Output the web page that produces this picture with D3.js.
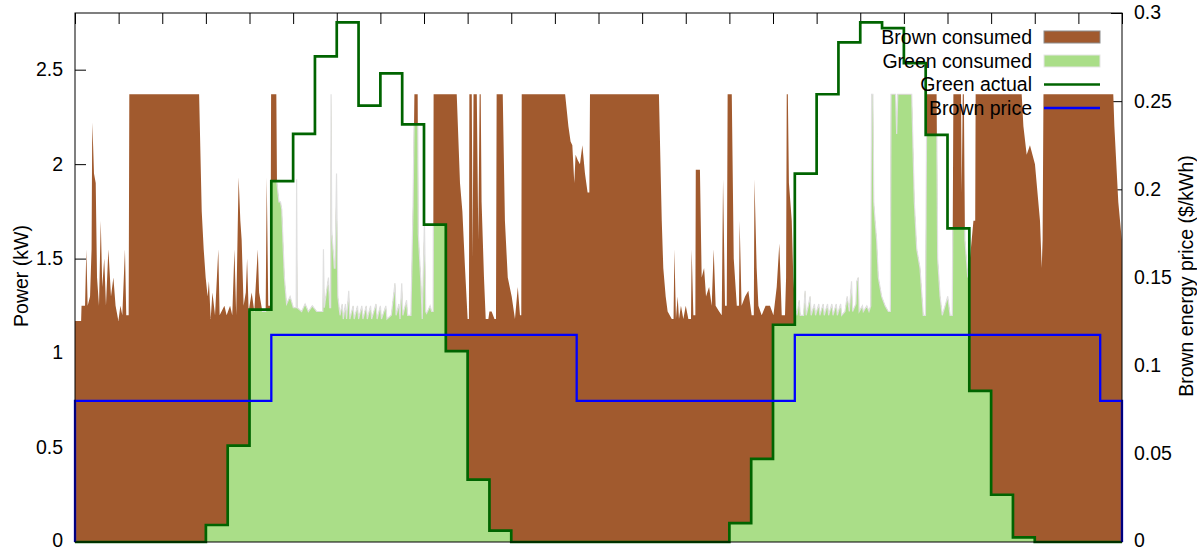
<!DOCTYPE html>
<html>
<head>
<meta charset="utf-8">
<script src="https://cdn.jsdelivr.net/npm/d3@7"></script>
<style>
  html, body { margin: 0; padding: 0; background: #fff; }
  svg text { font-family: "Liberation Sans", Arial, Helvetica, sans-serif; fill: #000; }
</style>
</head>
<body>
<svg id="chart" width="1197" height="551"></svg>
<script>
// Total power draw over two days (hour, kW); brown and green shares are split by the green supply.
const loadHour = [
  0.00,0.28,0.30,0.46,0.52,0.58,0.69,0.76,0.79,0.83,0.87,0.95,1.01,1.10,1.18,1.25,1.34,1.42,1.53,1.65,1.76,1.86,1.99,2.08,2.17,2.29,2.35,2.46,2.49,
  5.69,5.81,5.90,5.99,6.08,6.14,6.22,6.30,6.42,6.57,6.63,6.85,6.95,7.11,7.21,7.31,7.39,7.50,7.58,7.64,7.73,7.83,7.89,7.96,8.10,8.22,8.38,8.44,8.59,8.74,8.79,8.86,8.96,8.99,
  9.23,9.26,9.35,9.42,9.48,9.60,9.70,9.86,10.01,10.14,10.16,10.19,10.39,10.55,10.70,10.88,11.08,11.36,11.39,11.43,11.62,11.68,11.72,11.74,11.77,11.89,11.92,11.99,12.05,
  12.15,12.25,12.30,12.40,12.45,12.55,12.60,12.75,12.80,12.95,13.00,13.15,13.20,13.35,13.40,13.55,13.60,13.80,13.85,14.00,14.05,14.25,14.30,14.50,14.67,14.72,14.85,14.90,14.98,15.03,
  15.20,15.25,15.40,15.50,15.56,15.71,15.74,15.86,15.92,16.02,16.08,16.12,16.28,16.35,16.42,16.44,17.50,17.65,17.76,17.88,18.00,18.06,18.08,18.19,18.23,18.27,18.42,18.49,18.55,18.60,
  18.64,18.75,18.83,18.95,19.00,19.10,19.23,19.30,19.33,19.61,19.71,19.84,20.02,20.17,20.30,20.40,20.46,20.48,22.47,22.62,22.72,22.80,22.89,22.95,23.05,23.15,23.26,23.38,23.50,23.58,23.61,
  26.77,26.90,26.97,27.08,27.17,27.36,27.44,27.48,27.55,27.63,27.69,27.78,27.89,28.00,28.12,28.24,28.27,28.35,28.44,28.46,28.65,28.73,28.84,28.93,29.07,29.19,29.28,29.37,29.53,29.65,
  29.71,29.80,29.88,29.92,30.11,30.20,30.34,30.44,30.47,30.56,30.72,30.87,31.02,31.12,31.15,31.25,31.33,31.48,31.66,31.86,32.02,32.17,32.29,32.40,32.55,32.60,32.63,32.68,32.73,32.86,32.93,
  33.01,33.10,33.20,33.25,33.40,33.47,33.52,33.62,33.70,33.75,33.90,33.95,34.10,34.15,34.30,34.35,34.50,34.55,34.70,34.75,34.90,34.95,35.10,35.15,35.30,35.40,35.50,35.60,35.65,35.80,
  35.84,35.91,35.95,36.10,36.14,36.30,36.40,36.48,36.52,36.58,36.62,36.68,36.75,36.83,36.98,37.14,37.29,37.38,37.41,37.62,37.67,37.72,38.36,38.48,38.59,38.74,38.89,38.99,39.05,39.50,
  39.55,39.66,39.76,39.89,40.01,40.12,40.22,40.27,40.62,40.65,40.70,40.75,40.80,40.93,41.03,41.19,41.27,41.29,43.40,43.48,43.63,43.78,44.01,44.24,44.32,44.36,44.40,47.60,47.65,47.83,47.99,48.00
];
const loadKW = [
  1.17,1.17,1.25,1.25,1.55,1.25,1.30,1.55,2.22,2.10,1.95,1.90,1.40,1.25,1.70,1.35,1.50,1.25,1.55,1.30,1.40,1.25,1.17,1.25,1.20,1.55,1.20,1.20,2.37,
  2.37,1.75,1.55,1.40,1.30,1.38,1.18,1.32,1.20,1.55,1.20,1.25,1.20,1.25,1.20,1.55,1.20,1.93,1.70,1.60,1.25,1.32,1.50,1.22,1.32,1.22,1.55,1.32,1.22,1.22,1.93,1.25,1.25,2.37,
  2.37,1.90,1.80,1.80,1.76,1.40,1.26,1.30,1.24,1.24,1.92,1.24,1.22,1.26,1.22,1.25,1.22,1.22,1.55,1.24,1.40,1.24,1.24,2.37,1.65,1.45,1.45,1.95,1.30,
  1.20,1.26,1.18,1.26,1.18,1.33,1.18,1.25,1.18,1.25,1.18,1.25,1.18,1.25,1.18,1.25,1.18,1.26,1.18,1.25,1.18,1.25,1.18,1.20,1.37,1.20,1.26,1.18,1.37,1.20,
  1.28,1.20,1.20,1.80,2.37,2.37,1.63,1.37,1.18,1.70,1.22,1.21,1.25,1.22,1.22,2.37,2.37,1.90,1.75,1.45,1.18,1.18,2.37,2.37,1.50,2.37,2.37,1.60,2.37,2.37,
  1.80,1.40,1.18,1.18,1.22,1.22,1.18,1.18,2.37,2.37,1.70,1.40,1.30,1.18,1.35,1.20,1.20,2.37,2.37,2.20,2.12,2.10,1.90,2.05,2.02,2.00,2.10,1.95,1.85,1.85,2.37,
  2.37,1.70,1.45,1.30,1.22,1.18,1.18,1.55,1.18,1.30,1.18,1.25,1.18,1.25,1.18,1.18,1.55,1.20,1.20,1.97,1.97,1.40,1.45,1.30,1.35,1.25,1.55,1.25,1.22,1.20,
  1.92,1.25,1.25,2.37,2.37,1.50,1.25,1.25,1.70,1.25,1.30,1.33,1.20,1.20,1.92,1.45,1.25,1.20,1.25,1.25,1.20,1.35,1.58,1.20,1.20,1.40,2.37,2.37,1.90,1.70,1.40,
  1.25,1.20,1.28,1.20,1.20,1.33,1.20,1.25,1.30,1.20,1.26,1.20,1.26,1.20,1.26,1.20,1.26,1.20,1.26,1.20,1.26,1.20,1.26,1.20,1.22,1.30,1.22,1.38,1.22,1.26,
  1.38,1.40,1.22,1.25,1.22,1.25,1.22,1.25,2.37,2.37,1.80,1.70,1.60,1.40,1.30,1.25,1.22,1.22,2.37,2.37,2.16,2.37,2.37,1.80,1.55,1.45,1.20,1.20,2.37,2.37,
  1.50,1.30,1.20,1.25,1.30,1.20,1.20,2.37,2.37,1.85,2.37,2.37,1.60,1.40,1.50,1.70,1.70,2.37,2.37,2.20,2.05,2.10,2.00,1.70,1.45,1.60,2.37,2.37,2.20,1.80,1.60,1.40
];

// Available green power, one value per hour (hour h to h+1).
const greenActualKW = [
  0, 0, 0, 0, 0, 0, 0.09, 0.51, 1.23, 1.91, 2.16, 2.57, 2.75, 2.31, 2.48, 2.21, 1.68, 1.01, 0.33, 0.06, 0, 0, 0, 0,
  0, 0, 0, 0, 0, 0, 0.10, 0.44, 1.15, 1.95, 2.37, 2.645, 2.75, 2.72, 2.535, 2.155, 1.66, 0.80, 0.25, 0.025, 0, 0, 0, 0
];

// Grid energy tariff ($/kWh) and the hours at which each rate begins.
const priceStartHour = [0, 9, 23, 33, 47, 48];
const priceRate = [0.08, 0.1175, 0.08, 0.1175, 0.08, 0.08];

const leftTicks = [0, 0.5, 1, 1.5, 2, 2.5];
const rightTicks = [0, 0.05, 0.1, 0.15, 0.2, 0.25, 0.3];
const hourTicks = d3.range(0, 49, 2);
const legendLabels = ["Brown consumed", "Green consumed", "Green actual", "Brown price"];

const COLORS = { brown: "#a15a2e", green: "#aade88", greenLine: "#006400", price: "#0000ff" };

const svg = d3.select("#chart");
const L = 75, R = 1122, T = 13, B = 542;
const x = d3.scaleLinear().domain([0, 48]).range([L, R]);
const yPow = d3.scaleLinear().domain([0, 2.8]).range([B, T]);
const yPrice = d3.scaleLinear().domain([0, 0.3]).range([B, T]);

const fontSize = 19.5;

// Axes (ticks point inward, drawn beneath the data)
const axes = svg.append("g");
const leftAx = axes.append("g").attr("transform", `translate(${L},0)`)
  .call(d3.axisLeft(yPow).tickValues(leftTicks).tickSize(0).tickPadding(12).tickFormat(d3.format("")));
leftAx.selectAll(".tick line").attr("x2", 11);
const rightAx = axes.append("g").attr("transform", `translate(${R},0)`)
  .call(d3.axisRight(yPrice).tickValues(rightTicks).tickSize(0).tickPadding(12).tickFormat(d3.format("")));
rightAx.selectAll(".tick line").attr("x2", -11);
const topAx = axes.append("g").attr("transform", `translate(0,${T})`)
  .call(d3.axisTop(x).tickValues(hourTicks).tickSize(0).tickFormat(""));
topAx.selectAll(".tick line").attr("y2", 11);
const botAx = axes.append("g").attr("transform", `translate(0,${B})`)
  .call(d3.axisBottom(x).tickValues(hourTicks).tickSize(0).tickFormat(""));
botAx.selectAll(".tick line").attr("y2", -11);
axes.selectAll(".domain").remove();
axes.selectAll(".tick line").attr("stroke", "#000").attr("stroke-width", 1);
axes.selectAll(".tick text").attr("font-size", fontSize).attr("dy", "0.3em")
  .style("font-family", '"Liberation Sans", Arial, sans-serif');
// keep the bottom "0" labels inside the canvas
axes.selectAll(".tick text").filter(d => d === 0).attr("dy", "0.22em");

// Data layer
const load = loadHour.map((h, i) => ({ h, v: loadKW[i] }));
const green = greenActualKW.map((v, h) => ({ h, v })).concat([{ h: 48, v: greenActualKW[47] }]);
const price = [{ h: 0, v: 0 }]
  .concat(priceStartHour.map((h, i) => ({ h, v: priceRate[i] })))
  .concat([{ h: 48, v: 0 }]);

const defs = svg.append("defs");
defs.append("clipPath").attr("id", "plotClip")
  .append("rect").attr("x", L).attr("y", T).attr("width", R - L).attr("height", B - T);
defs.append("clipPath").attr("id", "greenClip")
  .append("path")
  .attr("d", d3.area().curve(d3.curveStepAfter)
    .x(d => x(d.h)).y0(yPow(0)).y1(d => yPow(d.v))(green));

const loadArea = d3.area().x(d => x(d.h)).y0(yPow(0)).y1(d => yPow(d.v));
const loadLine = d3.line().x(d => x(d.h)).y(d => yPow(d.v));

const plot = svg.append("g").attr("clip-path", "url(#plotClip)");
plot.append("path").datum(load).attr("d", loadArea).attr("fill", COLORS.brown);

const greenPart = plot.append("g").attr("clip-path", "url(#greenClip)");
greenPart.append("path").datum(load).attr("d", loadArea).attr("fill", COLORS.green);
greenPart.append("path").datum(load).attr("d", loadLine)
  .attr("fill", "none").attr("stroke", "#e0e0e0").attr("stroke-width", 1.2);

svg.append("path").datum(green)
  .attr("d", d3.line().curve(d3.curveStepAfter).x(d => x(d.h)).y(d => yPow(d.v)))
  .attr("fill", "none").attr("stroke", COLORS.greenLine).attr("stroke-width", 2.7);

svg.append("path").datum(price)
  .attr("d", d3.line().curve(d3.curveStepAfter).x(d => x(d.h)).y(d => yPrice(d.v)))
  .attr("fill", "none").attr("stroke", COLORS.price).attr("stroke-width", 2.3);

// Frame
svg.append("rect").attr("x", L).attr("y", T).attr("width", R - L).attr("height", B - T)
  .attr("fill", "none").attr("stroke", "#000").attr("stroke-width", 1);

// Axis titles
svg.append("text").attr("transform", `translate(28,276) rotate(-90)`)
  .attr("text-anchor", "middle").attr("font-size", fontSize).text("Power (kW)");
svg.append("text").attr("transform", `translate(1193,276) rotate(-90)`)
  .attr("text-anchor", "middle").attr("font-size", fontSize).text("Brown energy price ($/kWh)");

// Legend
const legend = svg.append("g");
const rowY = [37, 61, 84.5, 108];
legendLabels.forEach((label, i) => {
  legend.append("text").attr("x", 1032).attr("y", rowY[i]).attr("dy", "0.35em")
    .attr("text-anchor", "end").attr("font-size", fontSize).text(label);
});
legend.append("rect").attr("x", 1044).attr("y", rowY[0] - 6).attr("width", 56).attr("height", 12)
  .attr("fill", COLORS.brown).attr("stroke", "#8c8c8c").attr("stroke-width", 1);
legend.append("rect").attr("x", 1044).attr("y", rowY[1] - 6).attr("width", 56).attr("height", 12)
  .attr("fill", COLORS.green).attr("stroke", "#e6e6e6").attr("stroke-width", 1);
legend.append("line").attr("x1", 1044).attr("x2", 1100).attr("y1", rowY[2]).attr("y2", rowY[2])
  .attr("stroke", COLORS.greenLine).attr("stroke-width", 2.7);
legend.append("line").attr("x1", 1044).attr("x2", 1100).attr("y1", rowY[3]).attr("y2", rowY[3])
  .attr("stroke", COLORS.price).attr("stroke-width", 2.3);
</script>
</body>
</html>
